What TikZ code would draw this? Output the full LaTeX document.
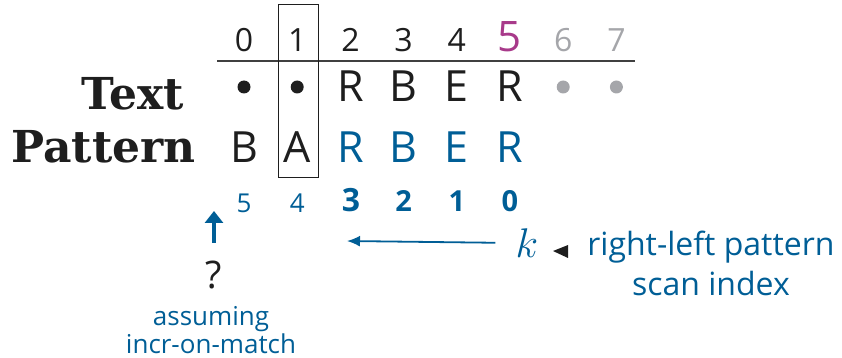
\documentclass[tikz,border=0pt]{standalone}
\usepackage{fontspec}
\setmainfont{Open Sans}
\newfontfamily\headfont{DejaVu Serif}
\usetikzlibrary{arrows.meta,positioning}
\definecolor{scanblue}{RGB}{0,94,150}
\definecolor{hitmagenta}{RGB}{168,58,138}
\definecolor{restgray}{RGB}{165,166,170}
\definecolor{inkblack}{RGB}{30,30,30}

\begin{document}
\begin{tikzpicture}[x=0.5pt,y=-0.5pt,
    idx/.style={anchor=base,inner sep=0pt,text=inkblack,
      font=\fontsize{16}{16}\selectfont},
    cell/.style={anchor=base,inner sep=0pt,text=inkblack,
      font=\fontsize{21.5}{21.5}\selectfont},
    dotcell/.style={circle,inner sep=0pt,minimum size=6.5pt,fill=inkblack},
    kval/.style={anchor=base,inner sep=0pt,text=scanblue,
      font=\fontsize{13}{13}\selectfont},
    rowlabel/.style={anchor=base east,inner sep=0pt,text=inkblack,
      font=\headfont\bfseries\fontsize{22}{22}\selectfont},
    note/.style={inner sep=0pt,text=scanblue,align=center}]
  \useasboundingbox (0,0) rectangle (842,358);
  % column indices
  \foreach \i in {0,...,4}
    \node[idx] (c\i) at ({244+53.2*\i},52) {\i};
  \node[idx,text=hitmagenta,font=\fontsize{21}{21}\selectfont]
    (c5) at (510,52) {5};
  \foreach \i in {6,7}
    \node[idx,text=restgray] (c\i) at ({244+53.2*\i},52) {\i};
  \draw[inkblack!85,line width=0.6pt] (217,61) -- (635,61);
  % text row
  \node[rowlabel] (textlbl) at (184,110) {Text};
  \foreach \i in {0,1}
    \node[dotcell] (t\i) at ({244+53.2*\i},87) {};
  \foreach \ch [count=\i from 2] in {R,B,E,R}
    \node[cell] (t\i) at ({244+53.2*\i},102) {\ch};
  \foreach \i in {6,7}
    \node[dotcell,fill=restgray] (t\i) at ({244+53.2*\i},87) {};
  % pattern row
  \node[rowlabel] (patlbl) at (196,163) {Pattern};
  \node[cell] (p0) at (244,163) {B};
  \node[cell] (p1) at (297.2,163) {A};
  \foreach \ch [count=\i from 2] in {R,B,E,R}
    \node[cell,text=scanblue] (p\i) at ({244+53.2*\i},163) {\ch};
  % alignment box
  \draw[inkblack,line width=0.5pt] (278,5) rectangle (318,178);
  % scan index k
  \node[kval] (k5) at (244,213) {5};
  \node[kval] (k4) at (297.2,213) {4};
  \node[kval,font=\bfseries\fontsize{16}{16}\selectfont] (k3) at (351,212) {3};
  \foreach \v [count=\i from 2] in {2,1,0}
    \node[kval,font=\bfseries\fontsize{14.5}{14.5}\selectfont]
      (k\i) at ({297.2+53.2*\i},212) {\v};
  \node[inner sep=0pt,text=scanblue,font=\fontsize{20}{20}\selectfont]
    (k) at (527,243) {$k$};
  \coordinate (scanhead) at (347,241);
  \draw[scanblue,line width=0.9pt,-{Latex[length=6.5pt,width=5.5pt]},
        shorten <=10pt] (k.west) -- (scanhead);
  \fill[inkblack] (553,251) -- (568,245) -- (568,258) -- cycle;
  \node[note,anchor=west,font=\fontsize{16}{20}\selectfont]
    (scanlbl) at (587,263) {right-left pattern\\scan index};
  % shift question
  \node[inner sep=0pt,text=inkblack,font=\fontsize{19}{19}\selectfont]
    (qmark) at (214,275) {?};
  \coordinate (shiftup) at (214,211);
  \draw[scanblue,line width=2pt,-{Triangle[length=6pt,width=9pt]},
        shorten <=9pt] (qmark.north) -- (shiftup);
  \node[note,font=\fontsize{13}{11.5}\selectfont]
    (assume) at (211,330) {assuming\\incr-on-match};
\end{tikzpicture}
\end{document}
